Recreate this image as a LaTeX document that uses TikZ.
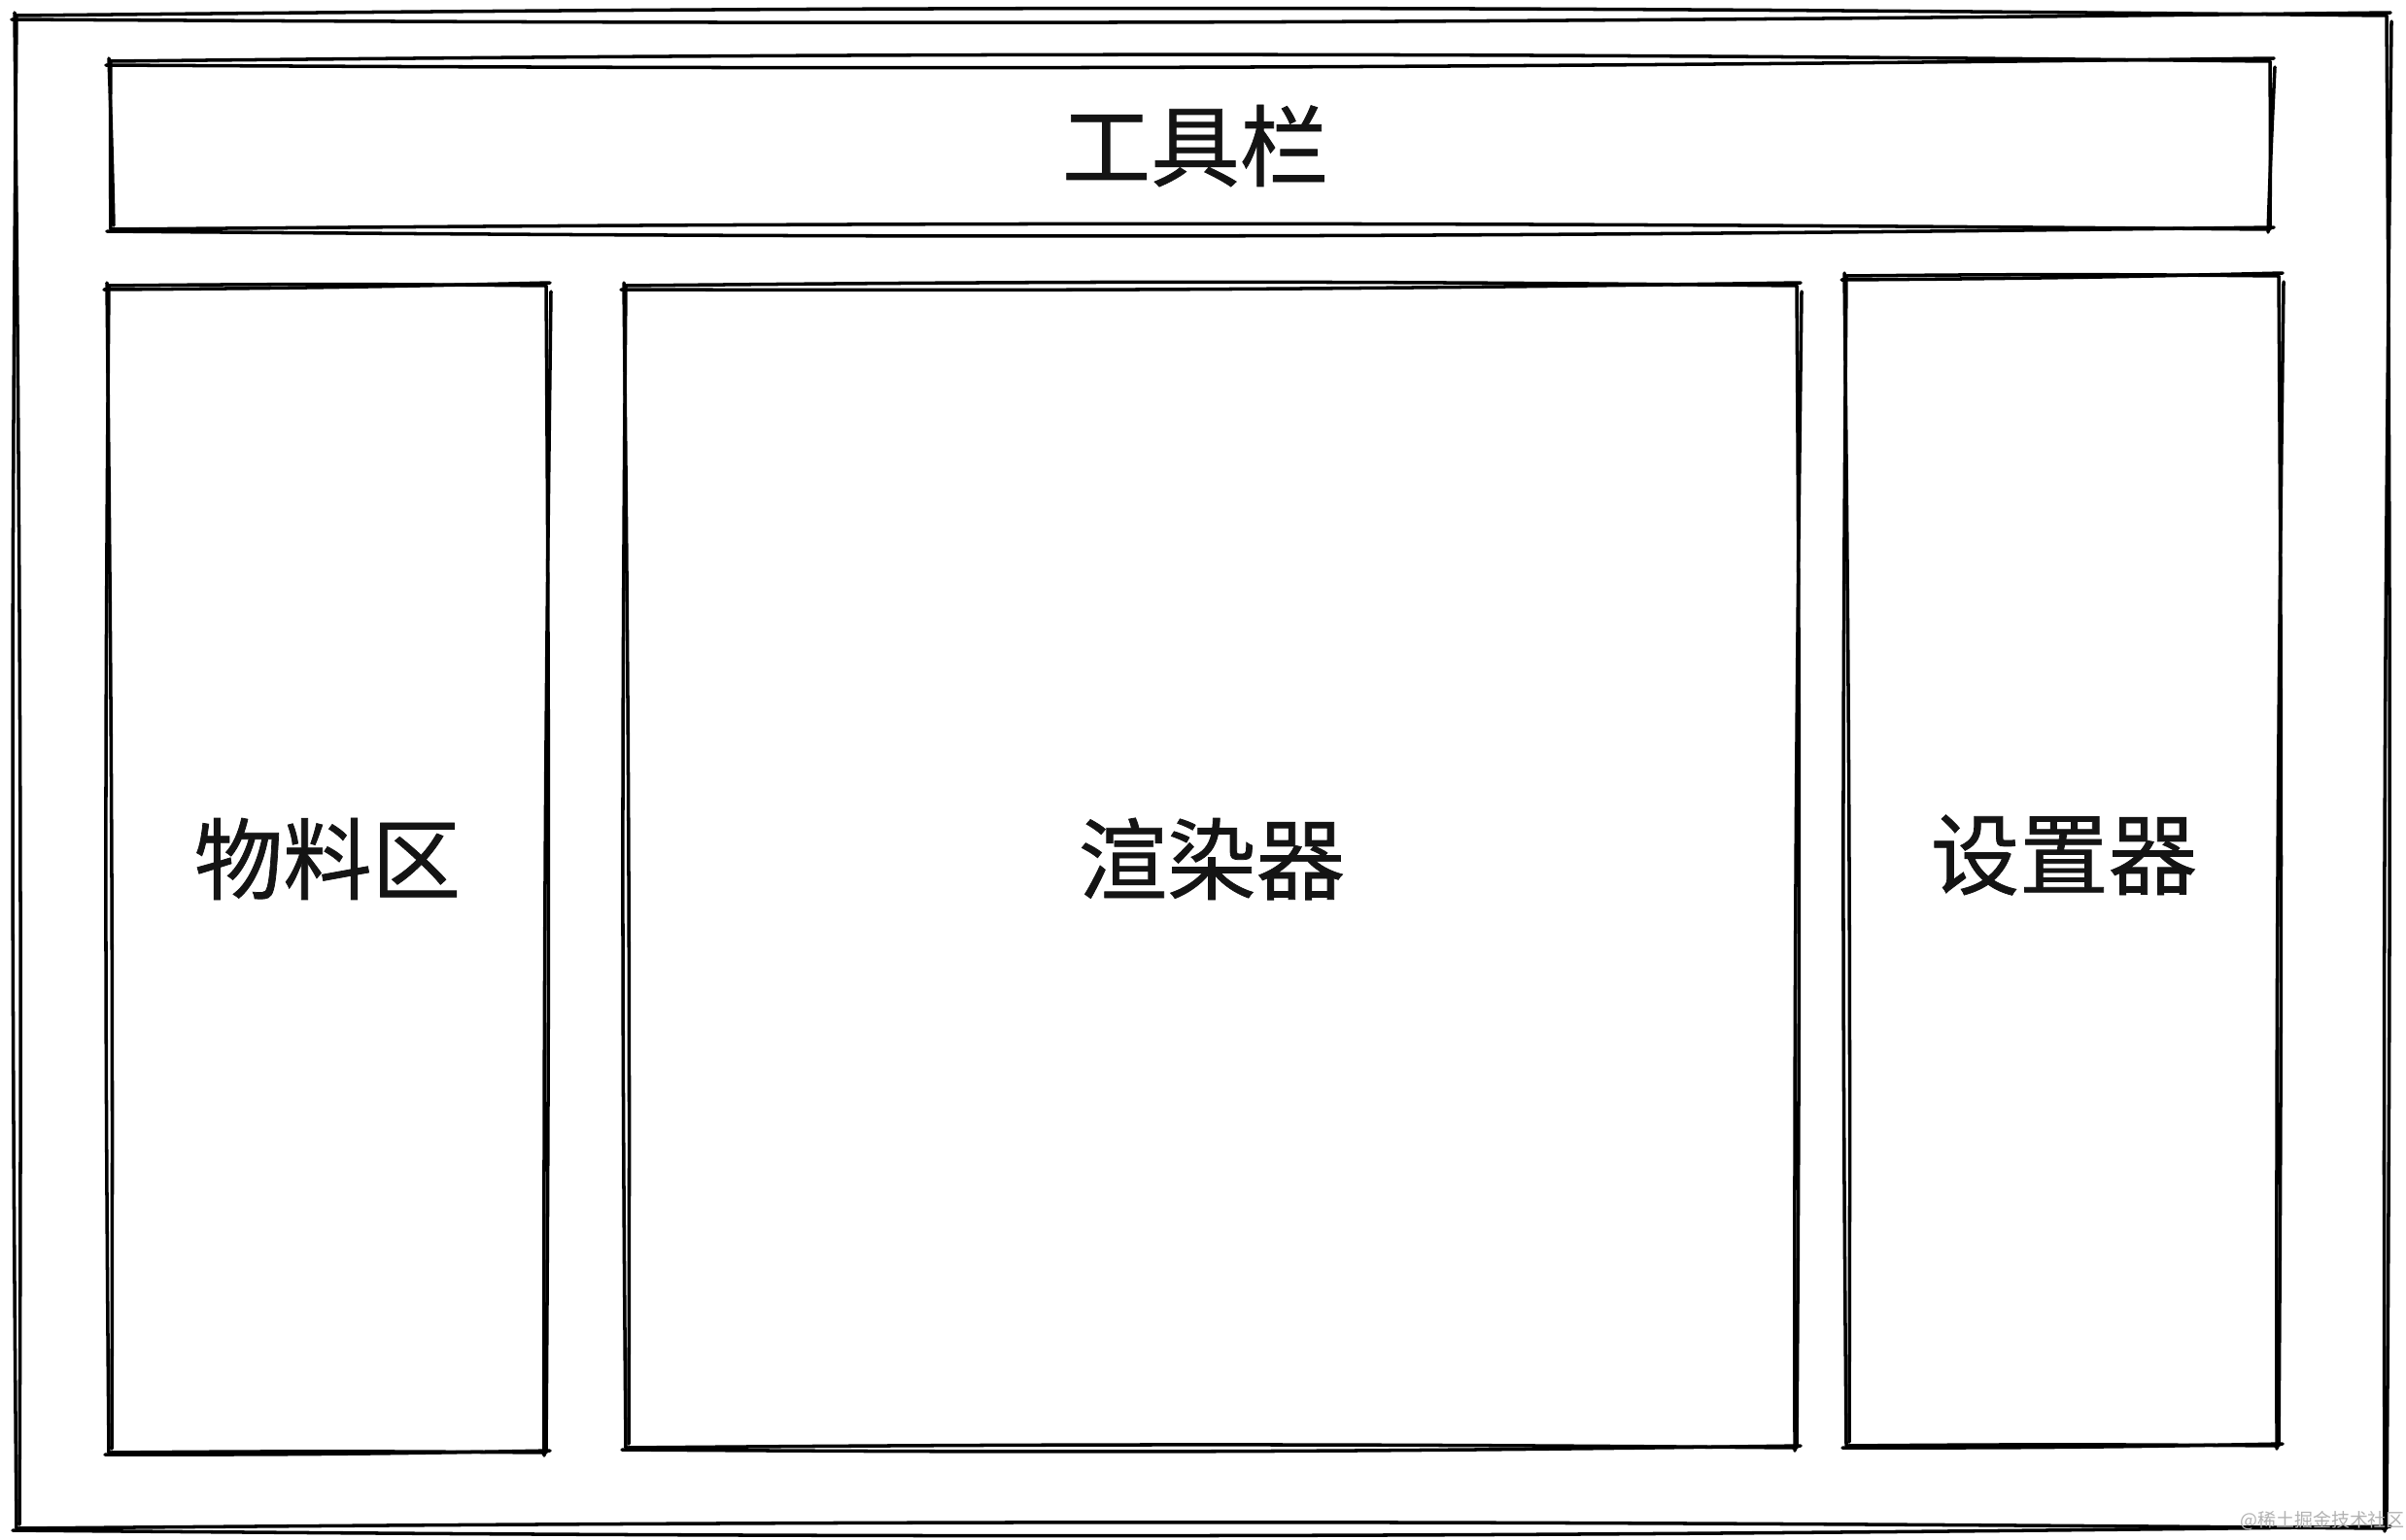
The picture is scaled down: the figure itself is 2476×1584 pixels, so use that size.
\documentclass[tikz,border=0pt]{standalone}
\usepackage{fontspec}
\usepackage{tikz}
\usetikzlibrary{positioning}
\newfontfamily\cjk[FakeBold=0.8]{Noto Sans CJK SC}
\newfontfamily\cjkthin{Noto Sans CJK SC}

\tikzset{
  sketch/.style={line width=1pt,black,line cap=round,line join=round},
  areatext/.style={font=\cjk\fontsize{26pt}{30pt}\selectfont,text=black!92},
  wmark/.style={font=\cjkthin\fontsize{5.4pt}{6pt}\selectfont,text=black!30}
}
% two rough passes, like a hand drawn box
\newcommand\roughbox[4]{%
  \draw[sketch] (#1,#2) to[bend left=0.6] (#3,#2) to[bend left=0.4] (#3,#4)
    to[bend right=0.5] (#1,#4) to[bend left=0.5] (#1,#2);
  \draw[sketch] ({#1-5},{#2+4}) to[bend right=0.5] ({#3+4},{#2-3})
    ({#3+5},{#2+6}) to[bend right=0.4] ({#3-2},{#4+3})
    ({#3+4},{#4-2}) to[bend left=0.6] ({#1-4},{#4+2})
    ({#1+3},{#4-4}) to[bend right=0.4] ({#1-2},{#2-3});
}

\begin{document}
\begin{tikzpicture}[x=0.01cm,y=-0.01cm]
  \useasboundingbox[fill=white] (0,0) rectangle (2476,1584);

  \roughbox{17}{16}{2456}{1573}
  \foreach \xa/\ya/\xb/\yb in {114/63/2336/236, 112/294/562/1495,
    644/294/1849/1490, 1900/284/2345/1488}
  {\roughbox{\xa}{\ya}{\xb}{\yb}}

  \node [areatext] (tools) at (1230,150) {工具栏};
  \node [areatext] (material) at (337,884) {物料区};
  \node [areatext] (render) at (1247,884) {渲染器};
  \node [areatext] (setting) at (2124,880) {设置器};
  \node [wmark] (juejin) at (2390,1565) {@稀土掘金技术社区};

\end{tikzpicture}
\end{document}
